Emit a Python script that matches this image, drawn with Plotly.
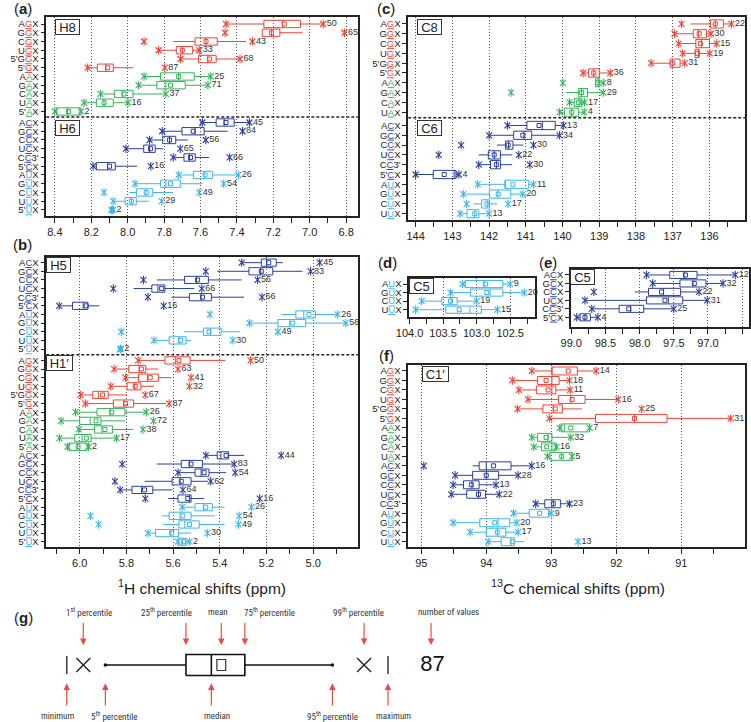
import plotly.graph_objects as go

W, H = 751, 722

# ------------------------------------------------------------------ data
# statistics per row, in ppm: p99 / p95 / q3 (75th) / median / mean / q1 (25th) / p5 / p1, n = count
A_LABELS = ["AGX", "GGX", "CGX", "UGX", "5'GGX", "5'GX", "AAX", "GAX", "CAX", "UAX", "5'AX",
            "ACX", "GCX", "CCX", "UCX", "CC3'", "5'CX", "AUX", "GUX", "CUX", "UUX", "5'UX"]
A_P99 = [7.46, 7.465, 7.91, 7.83, 7.71, 8.22, 7.91, 7.94, 8.15, 8.24, 8.40,
         7.59, 7.81, 7.88, 8.01, 7.75, 8.19, 7.72, 7.96, 8.13, 8.08, 8.09]
A_P95 = [7.46, 7.261, 7.75, 7.83, 7.71, 8.22, 7.91, 7.94, 8.15, 8.24, 8.40,
         7.59, 7.81, 7.88, 8.01, 7.75, 8.19, 7.72, 7.96, 7.99, 8.08, 8.09]
A_Q3 = [7.252, 7.261, 7.63, 7.733, 7.611, 8.167, 7.819, 7.84, 8.073, 8.172, 8.39,
        7.514, 7.702, 7.808, 7.912, 7.691, 8.172, 7.639, 7.819, 7.952, 8.014, 8.088]
A_MED = [7.15, 7.21, 7.57, 7.70, 7.56, 8.12, 7.72, 7.79, 8.03, 8.13, 8.33,
         7.47, 7.63, 7.77, 7.88, 7.66, 8.11, 7.58, 7.79, 7.90, 7.98, 8.085]
A_MEAN = [7.14, 7.21, 7.57, 7.70, 7.55, 8.11, 7.72, 7.765, 8.02, 8.13, 8.325,
          7.46, 7.64, 7.77, 7.875, 7.655, 8.10, 7.575, 7.765, 7.898, 7.98, 8.085]
A_Q1 = [7.051, 7.164, 7.508, 7.643, 7.514, 8.079, 7.634, 7.684, 7.971, 8.079, 8.262,
        7.415, 7.58, 7.736, 7.849, 7.629, 8.068, 7.535, 7.711, 7.862, 7.953, 8.082]
A_P5 = [6.926, 7.039, 7.35, 7.607, 7.383, 7.97, 7.544, 7.559, 7.79, 7.998, 8.256,
        7.331, 7.451, 7.67, 7.805, 7.553, 7.948, 7.392, 7.589, 7.751, 7.885, 8.08]
A_P1 = [6.926, 6.809, 7.315, 7.607, 7.383, 7.796, 7.544, 7.559, 7.79, 7.998, 8.256,
        7.331, 7.369, 7.571, 7.711, 7.44, 7.873, 7.392, 7.473, 7.607, 7.813, 8.08]
A_N = [50, 65, 43, 33, 68, 87, 25, 71, 37, 16, 2, 45, 84, 56, 65, 66, 16, 26, 54, 49, 29, 2]

B_LABELS = ["ACX", "GCX", "CCX", "UCX", "CC3'", "5'CX", "AUX", "GUX", "CUX", "UUX", "5'UX",
            "AGX", "GGX", "CGX", "UGX", "5'GGX", "5'GX", "AAX", "GAX", "CAX", "UAX", "5'AX",
            "ACX", "GCX", "CCX", "UCX", "CC3'", "5'CX", "AUX", "GUX", "CUX", "UUX", "5'UX"]
B_P99 = [5.306, 5.460, 5.727, 5.856, 5.708, 6.088, 5.442, 5.273, 5.822, 5.682, 5.826,
         5.750, 5.853, 5.804, 5.867, 5.996, 5.976, 6.018, 6.080, 6.004, 6.087, 6.052,
         5.460, 5.818, 5.579, 5.849, 5.827, 5.719, 5.561, 5.954, 5.919, 5.708, 5.58]
B_P95 = [5.306, 5.411, 5.670, 5.769, 5.607, 6.088, 5.135, 5.273, 5.554, 5.682, 5.826,
         5.750, 5.853, 5.804, 5.867, 5.996, 5.976, 6.018, 6.080, 6.004, 6.087, 6.052,
         5.460, 5.670, 5.579, 5.722, 5.827, 5.621, 5.561, 5.649, 5.642, 5.708, 5.58]
B_Q3 = [5.222, 5.275, 5.551, 5.691, 5.530, 6.031, 5.074, 5.151, 5.470, 5.617, 5.826,
        5.635, 5.790, 5.748, 5.797, 5.944, 5.856, 5.926, 6.000, 5.937, 6.021, 6.046,
        5.411, 5.565, 5.506, 5.604, 5.776, 5.579, 5.506, 5.617, 5.575, 5.675, 5.575]
B_MED = [5.20, 5.225, 5.50, 5.665, 5.48, 5.985, 5.04, 5.10, 5.44, 5.575, 5.825,
         5.59, 5.745, 5.71, 5.765, 5.92, 5.81, 5.87, 5.955, 5.905, 5.99, 6.01,
         5.395, 5.53, 5.48, 5.57, 5.735, 5.53, 5.47, 5.57, 5.55, 5.61, 5.56]
B_MEAN = [5.19, 5.222, 5.495, 5.649, 5.474, 5.972, 5.018, 5.088, 5.446, 5.568, 5.825,
          5.575, 5.736, 5.698, 5.762, 5.902, 5.804, 5.863, 5.930, 5.892, 5.972, 6.007,
          5.373, 5.523, 5.467, 5.565, 5.722, 5.537, 5.460, 5.558, 5.530, 5.607, 5.555]
B_Q1 = [5.158, 5.173, 5.449, 5.635, 5.436, 5.965, 4.990, 5.032, 5.394, 5.544, 5.824,
        5.527, 5.717, 5.663, 5.738, 5.878, 5.769, 5.806, 5.909, 5.860, 5.951, 5.968,
        5.362, 5.474, 5.446, 5.523, 5.687, 5.523, 5.432, 5.523, 5.488, 5.576, 5.545]
B_P5 = [5.130, 5.046, 5.306, 5.509, 5.296, 5.916, 4.892, 4.857, 5.313, 5.523, 5.824,
        5.376, 5.663, 5.607, 5.682, 5.797, 5.630, 5.715, 5.804, 5.771, 5.842, 5.962,
        5.296, 5.341, 5.373, 5.450, 5.603, 5.467, 5.379, 5.422, 5.379, 5.523, 5.53]
B_P1 = [4.972, 5.011, 5.238, 5.477, 5.219, 5.640, 4.895, 4.860, 5.151, 5.344, 5.824,
        5.268, 5.579, 5.523, 5.530, 5.719, 5.617, 5.715, 5.684, 5.729, 5.842, 5.962,
        5.137, 5.338, 5.334, 5.439, 5.558, 5.229, 5.264, 5.317, 5.320, 5.453, 5.53]
B_N = [45, 83, 56, 66, 66, 16, 26, 56, 49, 30, 2,
       50, 63, 41, 32, 67, 87, 26, 72, 38, 17, 2,
       44, 83, 54, 62, 64, 16, 26, 54, 49, 30, 2]

C_LABELS = ["AGX", "GGX", "CGX", "UGX", "5'GGX", "5'GX", "AAX", "GAX", "CAX", "UAX",
            "ACX", "GCX", "CCX", "UCX", "CC3'", "5'CX", "AUX", "GUX", "CUX", "UUX"]
C_P99 = [136.76, 136.95, 136.84, 136.73, 137.59, 139.44, 139.99, 141.40, 139.81, 140.08,
         141.50, 142.00, 142.76, 143.37, 142.28, 144.00, 142.31, 142.70, 142.61, 142.79]
C_P95 = [136.52, 136.95, 136.84, 136.73, 137.59, 139.44, 139.10, 139.90, 139.81, 140.08,
         141.50, 142.00, 141.78, 142.28, 142.28, 144.00, 142.31, 142.70, 142.42, 142.79]
C_Q3 = [135.97, 136.44, 136.37, 136.39, 137.07, 139.29, 139.10, 139.57, 139.68, 139.95,
        140.97, 141.33, 141.55, 142.02, 141.96, 143.52, 141.57, 141.99, 142.20, 142.60]
C_MED = [135.84, 136.30, 136.22, 136.30, 137.00, 139.15, 139.03, 139.48, 139.55, 139.75,
         140.55, 141.05, 141.47, 141.86, 141.80, 142.95, 141.55, 141.76, 142.05, 142.39]
C_MEAN = [135.84, 136.28, 136.24, 136.33, 137.00, 139.15, 139.04, 139.48, 139.57, 139.75,
          140.64, 141.08, 141.48, 141.86, 141.80, 143.22, 141.35, 141.75, 142.06, 142.39]
C_Q1 = [135.62, 136.08, 136.00, 136.28, 136.80, 139.00, 139.00, 139.32, 139.48, 139.56,
        140.20, 140.84, 141.35, 141.69, 141.69, 142.90, 140.92, 141.41, 141.99, 142.28]
C_P5 = [135.40, 135.96, 135.80, 135.99, 136.67, 138.70, 138.89, 138.89, 139.40, 139.41,
        139.97, 140.08, 141.07, 141.37, 141.37, 142.82, 140.79, 141.08, 141.78, 142.00]
C_P1 = [135.40, 135.96, 135.80, 135.99, 136.67, 138.70, 138.89, 138.89, 139.40, 139.41,
        139.97, 140.08, 140.79, 141.19, 140.89, 142.82, 140.79, 141.08, 141.48, 142.00]
C_N = [22, 30, 15, 19, 31, 36, 8, 29, 17, 4, 13, 34, 30, 22, 30, 4, 11, 20, 17, 13]

D_LABELS = ["AUX", "GUX", "CUX", "UUX"]
D_P99 = [103.21, 103.39, 103.82, 103.91]
D_P95 = [103.21, 103.39, 103.82, 103.91]
D_Q3 = [103.17, 103.09, 103.52, 103.46]
D_MED = [102.89, 102.80, 103.38, 103.10]
D_MEAN = [102.87, 102.85, 103.39, 103.26]
D_Q1 = [102.61, 102.61, 103.29, 102.93]
D_P5 = [102.50, 102.29, 103.00, 102.69]
D_P1 = [102.50, 102.29, 103.00, 102.69]
D_N = [9, 20, 19, 15]

E_LABELS = ["ACX", "GCX", "CCX", "UCX", "CC3'", "5'CX"]
E_P99 = [97.90, 97.81, 98.67, 98.80, 98.70, 98.92]
E_P95 = [97.90, 97.81, 98.07, 98.80, 98.70, 98.92]
E_Q3 = [97.56, 97.41, 97.87, 97.90, 98.30, 98.87]
E_MED = [97.35, 97.22, 97.65, 97.58, 98.13, 98.80]
E_MEAN = [97.33, 97.20, 97.68, 97.63, 98.16, 98.80]
E_Q1 = [97.16, 97.03, 97.40, 97.37, 97.94, 98.72]
E_P5 = [96.60, 96.78, 97.13, 97.01, 97.50, 98.61]
E_P1 = [96.60, 96.78, 97.13, 97.01, 97.50, 98.61]
E_N = [12, 32, 22, 31, 25, 4]

F_LABELS = ["AGX", "GGX", "CGX", "UGX", "5'GGX", "5'GX", "AAX", "GAX", "CAX", "UAX",
            "ACX", "GCX", "CCX", "UCX", "CC3'", "AUX", "GUX", "CUX", "UUX"]
F_P99 = [93.30, 93.60, 93.50, 93.36, 93.52, 93.03, 92.87, 93.30, 93.27, 93.06,
         94.96, 94.48, 94.51, 94.54, 93.24, 93.58, 94.51, 94.25, 93.97]
F_P95 = [93.30, 93.60, 93.50, 93.36, 93.52, 93.03, 92.87, 93.30, 93.27, 93.06,
         94.21, 94.48, 94.51, 94.54, 93.24, 93.58, 94.51, 94.25, 93.97]
F_Q3 = [92.99, 93.21, 93.23, 92.89, 93.13, 92.32, 92.85, 93.21, 93.15, 93.02,
        94.11, 94.21, 94.35, 94.30, 93.10, 93.34, 94.10, 94.00, 93.77]
F_MED = [92.99, 92.99, 92.99, 92.70, 92.97, 91.72, 92.80, 93.05, 92.99, 92.84,
         94.00, 94.00, 94.22, 94.12, 92.97, 93.04, 93.82, 93.83, 93.62]
F_MEAN = [92.74, 93.08, 93.05, 92.68, 92.94, 91.72, 92.70, 93.08, 93.07, 92.84,
          93.89, 94.00, 94.23, 94.12, 92.97, 93.18, 93.87, 93.83, 93.60]
F_Q1 = [92.60, 92.88, 92.93, 92.48, 92.83, 91.22, 92.41, 92.99, 92.94, 92.68,
        93.62, 93.81, 94.11, 94.01, 92.86, 93.04, 93.64, 93.70, 93.57]
F_P5 = [92.31, 92.72, 92.71, 91.97, 92.53, 90.24, 92.41, 92.70, 92.92, 92.68,
        93.30, 93.51, 93.85, 93.80, 92.72, 93.00, 93.53, 93.51, 93.42]
F_P1 = [92.31, 92.72, 92.71, 91.97, 91.61, 90.24, 92.41, 92.70, 92.92, 92.68,
        93.30, 93.51, 93.85, 93.80, 92.72, 93.00, 93.53, 93.51, 92.59]
F_N = [14, 18, 11, 16, 25, 31, 7, 32, 16, 5, 16, 28, 13, 22, 23, 9, 20, 17, 13]

# key (g): schematic values on an arbitrary scale
LEG_LABELS = ["minimum", "1<sup>st</sup> percentile", "5<sup>th</sup> percentile",
              "25<sup>th</sup> percentile", "median", "mean", "75<sup>th</sup> percentile",
              "95<sup>th</sup> percentile", "99<sup>th</sup> percentile", "maximum"]
LEG_VALUES = [7.3, 9.55, 12.55, 23.5, 26.95, 28.3, 31.5, 43.4, 47.7, 50.95]
LEG_N = 87
LEG_N_POS = 57.0

# ------------------------------------------------------------------ style
COL = {"G": "#ee4237", "A": "#33b45a", "C": "#2c3f9c", "U": "#3cb5e6"}
FONT = "Liberation Sans, Arial, sans-serif"
NARROW = "Liberation Sans Narrow, Roboto Condensed, Liberation Sans, sans-serif"
INK = "#222"

fig = go.Figure()


def nuc_idx(lab):
    if lab.startswith("5'"):
        return 3 if len(lab) == 5 else 2
    return 1


def fmt_label(lab):
    i = nuc_idx(lab)
    c = COL[lab[i]]
    return (lab[:i] + '<span style="color:%s;text-decoration:underline">%s</span>' % (c, lab[i])
            + lab[i + 1:])


def positions(n, split, gap):
    return [i if (split is None or i < split) else i + gap for i in range(n)]


def ax_names(k):
    return ("x", "y") if k == 1 else ("x%d" % k, "y%d" % k)


def add_boxes(k, labels, pos, p99, p95, q3, med, mean, q1, p5, p1, n, hh=0.42):
    xa, ya = ax_names(k)
    groups = {}
    for i, lab in enumerate(labels):
        groups.setdefault(COL[lab[nuc_idx(lab)]], []).append(i)
    for c, idx in groups.items():
        lx, ly = [], []
        for i in idx:
            y = pos[i]
            if p95[i] != q3[i]:
                lx += [p95[i], q3[i], None]
                ly += [y, y, None]
            if p5[i] != q1[i]:
                lx += [q1[i], p5[i], None]
                ly += [y, y, None]
            lx += [q3[i], q1[i], q1[i], q3[i], q3[i], None, med[i], med[i], None]
            ly += [y - hh, y - hh, y + hh, y + hh, y - hh, None, y - hh, y + hh, None]
        common = dict(xaxis=xa, yaxis=ya, hoverinfo="skip", showlegend=False)
        fig.add_trace(go.Scatter(x=lx, y=ly, mode="lines", line=dict(color=c, width=1), **common))
        mx = [p99[i] for i in idx] + [p1[i] for i in idx]
        my = [pos[i] for i in idx] * 2
        fig.add_trace(go.Scatter(x=mx, y=my, mode="markers",
                                 marker=dict(symbol="x-thin-open", size=6, color=c,
                                             line=dict(color=c, width=1.1)), **common))
        fig.add_trace(go.Scatter(x=mx, y=my, mode="markers",
                                 marker=dict(symbol="line-ns-open", size=6, color=c,
                                             line=dict(color=c, width=1.1)), **common))
        fig.add_trace(go.Scatter(x=[mean[i] for i in idx], y=[pos[i] for i in idx], mode="markers",
                                 marker=dict(symbol="square-open", size=4, color=c,
                                             line=dict(color=c, width=1)), **common))
    fig.add_trace(go.Scatter(x=p1, y=pos, mode="markers+text", text=[str(v) for v in n],
                             textposition="middle right", cliponaxis=False,
                             marker=dict(size=4, opacity=0, color="white"),
                             textfont=dict(size=9, color="#333", family=FONT),
                             xaxis=xa, yaxis=ya, hoverinfo="skip", showlegend=False))


def xdom(l, r):
    return [l / W, r / W]


def ydom(t, b):
    return [1 - b / H, 1 - t / H]


def x_axis(k, dom, rng, dtick, minor, tfmt):
    xa, ya = ax_names(k)
    return dict(domain=dom, range=rng, anchor=ya, dtick=dtick, tick0=0, tickformat=tfmt,
                showgrid=True, gridcolor="#555", griddash="1px,2px", gridwidth=1, zeroline=False,
                showline=True, mirror=True, linecolor=INK, linewidth=1.6,
                ticks="outside", ticklen=5, tickwidth=1.2, tickcolor=INK,
                tickfont=dict(size=11, color=INK, family=FONT),
                minor=dict(dtick=minor, tick0=0, ticks="outside", ticklen=5, tickwidth=1.2,
                           tickcolor=INK, showgrid=False),
                fixedrange=True)


def y_axis(k, dom, rng, pos, labels):
    xa, ya = ax_names(k)
    return dict(domain=dom, range=rng, anchor=xa, tickmode="array", tickvals=pos,
                ticktext=[fmt_label(l) for l in labels], showgrid=False, zeroline=False,
                showline=True, mirror=True, linecolor=INK, linewidth=1.6,
                ticks="outside", ticklen=4, tickwidth=1.2, tickcolor=INK,
                tickfont=dict(size=9.5, color=INK, family=FONT), fixedrange=True)


POS_A = positions(len(A_LABELS), 11, 0.26)
POS_B = positions(len(B_LABELS), 11, 0.32)
POS_C = positions(len(C_LABELS), 10, 0.35)
POS_D = positions(len(D_LABELS), None, 0)
POS_E = positions(len(E_LABELS), None, 0)
POS_F = positions(len(F_LABELS), None, 0)

add_boxes(1, A_LABELS, POS_A, A_P99, A_P95, A_Q3, A_MED, A_MEAN, A_Q1, A_P5, A_P1, A_N)
add_boxes(2, B_LABELS, POS_B, B_P99, B_P95, B_Q3, B_MED, B_MEAN, B_Q1, B_P5, B_P1, B_N)
add_boxes(3, C_LABELS, POS_C, C_P99, C_P95, C_Q3, C_MED, C_MEAN, C_Q1, C_P5, C_P1, C_N)
add_boxes(4, D_LABELS, POS_D, D_P99, D_P95, D_Q3, D_MED, D_MEAN, D_Q1, D_P5, D_P1, D_N)
add_boxes(5, E_LABELS, POS_E, E_P99, E_P95, E_Q3, E_MED, E_MEAN, E_Q1, E_P5, E_P1, E_N)
add_boxes(6, F_LABELS, POS_F, F_P99, F_P95, F_Q3, F_MED, F_MEAN, F_Q1, F_P5, F_P1, F_N)

layout = dict(width=W, height=H, margin=dict(l=0, r=0, t=0, b=0), paper_bgcolor="white",
              plot_bgcolor="white", font=dict(family=FONT, color=INK), showlegend=False)

layout["xaxis"] = x_axis(1, xdom(34, 352), [8.447, 6.735], 0.2, 0.1, ".1f")
layout["yaxis"] = y_axis(1, ydom(17, 216), [21.95, -0.8], POS_A, A_LABELS)
layout["xaxis2"] = x_axis(2, xdom(34, 352), [6.143, 4.808], 0.2, 0.1, ".1f")
layout["yaxis2"] = y_axis(2, ydom(256.7, 547), [32.93, -0.69], POS_B, B_LABELS)
layout["xaxis3"] = x_axis(3, xdom(403.3, 747), [144.2, 135.03], 1, 0.5, "d")
layout["yaxis3"] = y_axis(3, ydom(16.7, 220), [19.99, -0.74], POS_C, C_LABELS)
layout["xaxis4"] = x_axis(4, xdom(404.3, 532.7), [104.005, 102.13], 0.5, 0.25, ".1f")
layout["yaxis4"] = y_axis(4, ydom(278.3, 316.7), [3.82, -0.67], POS_D, D_LABELS)
layout["xaxis5"] = x_axis(5, xdom(569.3, 751), [99.005, 96.4], 0.5, 0.25, ".1f")
layout["yaxis5"] = y_axis(5, ydom(269.3, 327.3), [6.18, -0.67], POS_E, E_LABELS)
layout["xaxis6"] = x_axis(6, xdom(403.3, 747), [95.2, 90.02], 1, 0.5, "d")
layout["yaxis6"] = y_axis(6, ydom(365, 547.3), [18.59, -0.63], POS_F, F_LABELS)
layout["xaxis7"] = dict(domain=[0, 1], range=[0, 100], anchor="y7", visible=False, fixedrange=True)
layout["yaxis7"] = dict(domain=ydom(600, 722), range=[-5.7, 6.5], anchor="x7", visible=False,
                        fixedrange=True)

shapes = []
for ya, xa, sep in (("y", "x", 10.64), ("y2", "x2", 10.66), ("y3", "x3", 9.57)):
    shapes.append(dict(type="line", xref=xa + " domain", x0=0, x1=1, yref=ya, y0=sep, y1=sep,
                       line=dict(color=INK, width=1.6, dash="3px,2px")))

annotations = []
for txt, px, py in (("a", 10, 9), ("b", 10, 244), ("c", 381, 9), ("d", 382, 262),
                    ("e", 546, 262), ("f", 381, 355), ("g", 11, 617)):
    annotations.append(dict(text="(<b>%s</b>)" % txt, x=px / W, y=1 - py / H, xref="paper",
                            yref="paper", showarrow=False, xanchor="center", yanchor="middle",
                            font=dict(size=15, color=INK, family=FONT)))
for txt, px, py, wd in (("H8", 55.5, 27, 21), ("H6", 55.5, 128, 21), ("H5", 46, 265, 21),
                        ("H1′", 47.5, 363, 23), ("C8", 424.7, 27, 21), ("C6", 424.7, 128, 21),
                        ("C5", 416.7, 286, 21), ("C5", 581.3, 277, 21), ("C1′", 430.7, 374, 23)):
    annotations.append(dict(text=txt, x=px / W, y=1 - py / H, xref="paper", yref="paper",
                            showarrow=False, xanchor="center", yanchor="middle", width=wd, height=12,
                            bgcolor="white", bordercolor="#333", borderwidth=1, borderpad=1,
                            font=dict(size=13, color=INK, family=FONT)))
for txt, px, py in (("<sup>1</sup>H chemical shifts (ppm)", 193, 587),
                    ("<sup>13</sup>C chemical shifts (ppm)", 577, 587)):
    annotations.append(dict(text=txt, x=px / W, y=1 - py / H, xref="paper", yref="paper",
                            showarrow=False, xanchor="center", yanchor="middle",
                            font=dict(size=15.5, color=INK, family=FONT)))

# ------------------------------------------------------------------ key (g)
lv = dict(zip(["min", "p1", "p5", "q1", "med", "mean", "q3", "p95", "p99", "max"], LEG_VALUES))
bh = 1.05
gx = [lv["p5"], lv["q1"], None, lv["q3"], lv["p95"], None,
      lv["q1"], lv["q3"], lv["q3"], lv["q1"], lv["q1"], None, lv["med"], lv["med"], None]
gy = [0, 0, None, 0, 0, None, -bh, -bh, bh, bh, -bh, None, -bh, bh, None]
g_common = dict(xaxis="x7", yaxis="y7", hoverinfo="skip", showlegend=False)
fig.add_trace(go.Scatter(x=gx, y=gy, mode="lines", line=dict(color="#111", width=1.6), **g_common))
mw, mh = 0.6, 0.55
fig.add_trace(go.Scatter(x=[lv["mean"] - mw, lv["mean"] + mw, lv["mean"] + mw, lv["mean"] - mw, lv["mean"] - mw],
                         y=[-mh, -mh, mh, mh, -mh], mode="lines", line=dict(color="#333", width=1.2),
                         **g_common))
fig.add_trace(go.Scatter(x=[lv["p5"], lv["p95"]], y=[0, 0], mode="markers",
                         marker=dict(symbol="circle", size=3.5, color="#111"), **g_common))
fig.add_trace(go.Scatter(x=[lv["p1"], lv["p99"]], y=[0, 0], mode="markers",
                         marker=dict(symbol="x-thin-open", size=14, color="#222",
                                     line=dict(color="#222", width=1.4)), **g_common))
fig.add_trace(go.Scatter(x=[lv["min"], lv["max"]], y=[0, 0], mode="markers",
                         marker=dict(symbol="line-ns-open", size=13, color="#444",
                                     line=dict(color="#444", width=1.6)), **g_common))
fig.add_trace(go.Scatter(x=[LEG_N_POS], y=[0], mode="text", text=[str(LEG_N)],
                         textposition="middle center", textfont=dict(size=22, color="#111", family=FONT),
                         **g_common))

LEG_SIDE = ["bottom", "top", "bottom", "top", "bottom", "top", "top", "bottom", "top", "bottom"]
LEG_DX = [-1.2, 0.8, 1.3, -2.6, 0.8, -0.5, 3.3, 0.0, -0.8, 0.7]
ARROW = "#ee4a42"
arrow_specs = list(zip(LEG_VALUES, LEG_LABELS, LEG_SIDE, LEG_DX)) + \
    [(LEG_N_POS - 0.2, "number of values", "top", 2.4)]
for v, lab, side, ddx in arrow_specs:
    if side == "top":
        head, tail, ty = 2.0, 4.35, 5.27
    else:
        head, tail, ty = -1.83, -4.2, -5.1
    annotations.append(dict(x=v, y=head, ax=v, ay=tail, xref="x7", yref="y7", axref="x7",
                            ayref="y7", text="", showarrow=True, arrowhead=2, arrowsize=1.1,
                            arrowwidth=1.2, arrowcolor=ARROW, standoff=0, startstandoff=0))
    annotations.append(dict(x=v + ddx, y=ty, xref="x7", yref="y7", text=lab, showarrow=False,
                            xanchor="center", yanchor="middle",
                            font=dict(size=9, color="#333", family=NARROW)))

layout["shapes"] = shapes
layout["annotations"] = annotations
fig.update_layout(**layout)
fig.write_html("out.html")
